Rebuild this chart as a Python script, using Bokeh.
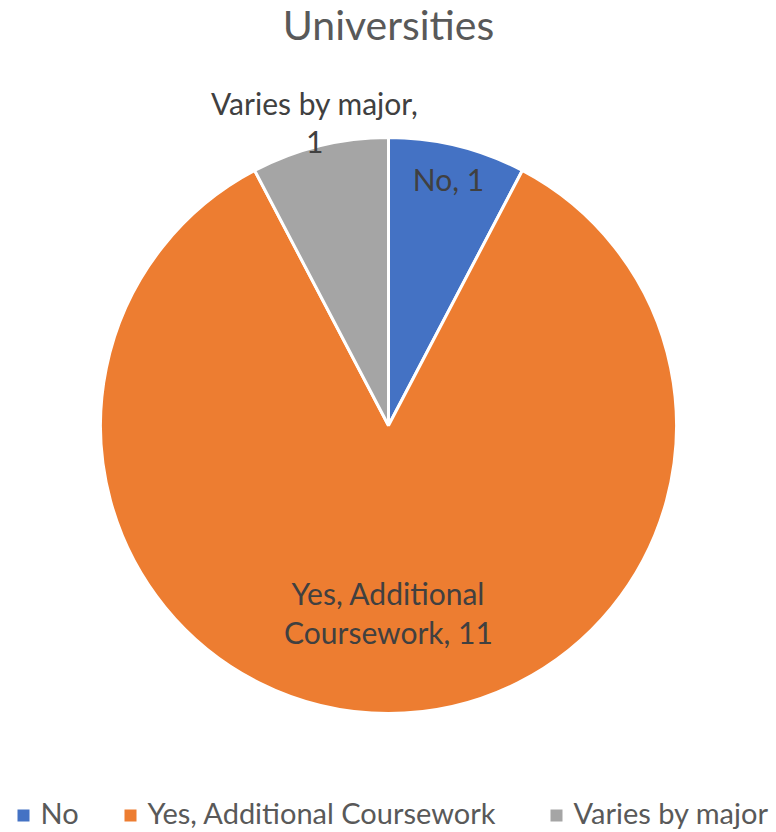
import numpy as np
from bokeh.plotting import figure
from bokeh.models import Range1d
from bokeh.core.properties import value
from bokeh.embed import file_html
from bokeh.resources import INLINE

# ---- data ----
title_text = "Universities"
categories = ["No", "Yes, Additional Coursework", "Varies by major"]
counts = [1, 11, 1]
colors = ["#4472C4", "#ED7D31", "#A5A5A5"]
label_lines = [["No, 1"], ["Yes, Additional", "Coursework, 11"], ["Varies by major,", "1"]]

FONT = "Lato"
W, H = 776, 832

def py(screen_y):
    return H - screen_y

p = figure(width=W, height=H, output_backend="svg", toolbar_location=None,
           x_range=Range1d(0, W), y_range=Range1d(0, H),
           min_border=0, outline_line_color=None)
p.axis.visible = False
p.grid.visible = False
p.background_fill_color = "white"
p.border_fill_color = "white"

# ---- pie ----
cx, cy, R = 388, py(425), 288
vals = np.array(counts, dtype=float)
total = vals.sum()
cum = np.concatenate([[0], np.cumsum(vals)])
start = np.pi / 2 - 2 * np.pi * cum[:-1] / total
end = np.pi / 2 - 2 * np.pi * cum[1:] / total

p.wedge(x=cx, y=cy, radius=R, start_angle=start, end_angle=end, direction="clock",
        fill_color=colors, line_color="white", line_width=3)

# ---- data labels (one text per line, block centred on a point along the mid-angle) ----
mid = (start + end) / 2
rfac = [0.87, 0.66, 1.07]
LINE = 39
BASE_SHIFT = 10.5 - 14   # cap-half minus renderer's baseline offset
tx, ty, tt = [], [], []
for k, lines in enumerate(label_lines):
    bx = cx + rfac[k] * R * np.cos(mid[k])
    by = cy + rfac[k] * R * np.sin(mid[k])
    n = len(lines)
    for i, s in enumerate(lines):
        tx.append(bx)
        ty.append(by - (i - (n - 1) / 2) * LINE - BASE_SHIFT)
        tt.append(s)
p.text(x=tx, y=ty, text=tt, text_align="center", text_baseline="alphabetic",
       text_font=value(FONT), text_font_size="30px", text_color="#404040")

# ---- title ----
p.text(x=[388], y=[py(41 - 17)], text=[title_text], text_align="center", text_baseline="alphabetic",
       text_font=value(FONT), text_font_size="41px", text_color="#595959")

# ---- legend ----
leg_sq_x = [23, 130, 556]
leg_y = py(815)
p.scatter(x=leg_sq_x, y=[leg_y] * 3, marker="square", size=12, fill_color=colors, line_color=None)
p.text(x=[x + 17 for x in leg_sq_x], y=[leg_y - 10 + 13] * 3, text=categories, text_align="left",
       text_baseline="alphabetic", text_font=value(FONT), text_font_size="29px", text_color="#595959")

open("out.html", "w").write(file_html(p, INLINE))
